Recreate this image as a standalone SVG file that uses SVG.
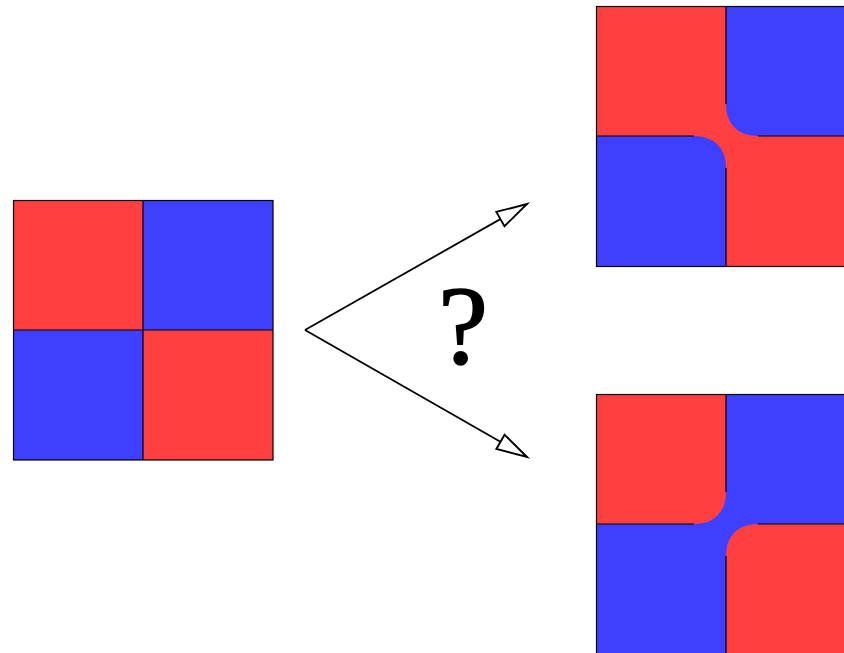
<svg xmlns="http://www.w3.org/2000/svg" width="844" height="653" viewBox="0 0 844 653">
<style>
.r{fill:#ff3f40}
.b{fill:#3f40ff}
.ln{stroke:#000;stroke-width:1.2;fill:none}
.arr{stroke:#000;stroke-width:1.8;fill:none}
.q{font-family:"Liberation Serif","Times New Roman",serif;font-size:112px;font-weight:normal;stroke:#000;stroke-width:1.6}
</style>
<defs>
<marker id="head" markerUnits="userSpaceOnUse" orient="auto" refX="0" refY="0" markerWidth="40" markerHeight="40" viewBox="-30 -12 34 24" overflow="visible">
<path d="M0,0 L-26,-7 L-26,7 Z" fill="#fff" stroke="#000" stroke-width="1.6" stroke-linejoin="miter"/>
</marker>
</defs>
<rect width="844" height="653" fill="#fff"/>
<g id="source">
<rect class="r" x="13" y="200" width="130" height="130"/>
<rect class="b" x="143" y="200" width="130" height="130"/>
<rect class="b" x="13" y="330" width="130" height="130"/>
<rect class="r" x="143" y="330" width="130" height="130"/>
<path class="ln" d="M143,200 V460 M13,330 H273"/>
<rect class="ln" x="13.5" y="200.5" width="259.5" height="259.5"/>
</g>
<g id="result-red-connected">
<rect class="r" x="596" y="6" width="260" height="260"/>
<path class="b" d="M726,6 H856 V136 H758 C738,136 726,124 726,104 Z"/>
<path class="b" d="M596,266 V136 H694 C714,136 726,148 726,168 V266 Z"/>
<path class="ln" d="M726,6 V104 M726,168 V266 M596,136 H694 M758,136 H856"/>
<rect class="ln" x="596.5" y="6.5" width="260" height="260"/>
</g>
<g id="result-blue-connected">
<rect class="b" x="596" y="394" width="260" height="260"/>
<path class="r" d="M596,394 H726 V492 C726,512 714,524 694,524 H596 Z"/>
<path class="r" d="M856,654 H726 V556 C726,536 738,524 758,524 H856 Z"/>
<path class="ln" d="M726,394 V492 M726,556 V654 M596,524 H694 M758,524 H856"/>
<rect class="ln" x="596.5" y="394.5" width="260" height="260"/>
</g>
<g id="connectors">
<path class="arr" d="M305,330 L527,204" marker-end="url(#head)"/>
<path class="arr" d="M305,330 L527,457" marker-end="url(#head)"/>
</g>
<g id="label">
<text class="q" x="463" y="363" text-anchor="middle">?</text>
</g>
</svg>
